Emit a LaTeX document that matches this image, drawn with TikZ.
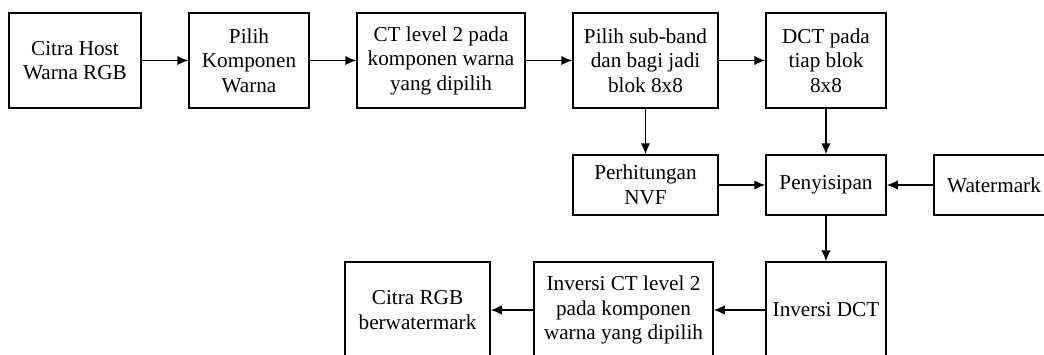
\documentclass[tikz,border=0pt]{standalone}
\usepackage{fontspec}
\setmainfont{Liberation Serif}
\usetikzlibrary{arrows.meta}
\begin{document}
\begin{tikzpicture}[x=1pt,y=1pt,
  box/.style={draw, line width=1.5pt, inner sep=0pt, align=center,
    font=\fontsize{21.2}{24.5}\selectfont},
  arr/.style={line width=1.5pt, -{Latex[length=11pt,width=9.5pt]}}]
\useasboundingbox (0,0) rectangle (1044,-354);
\clip (0,0) rectangle (1044,-354);
% row 1
\node[box, minimum width=132, minimum height=95] (b1) at (75,-60.5) {Citra Host\\Warna RGB};
\node[box, minimum width=120, minimum height=95] (b2) at (249,-60.5) {Pilih\\Komponen\\Warna};
\node[box, minimum width=168, minimum height=95] (b3) at (441,-60.5) {CT level 2 pada\\komponen warna\\yang dipilih};
\node[box, minimum width=145, minimum height=95] (b4) at (645.5,-60.5) {Pilih sub-band\\dan bagi jadi\\blok 8x8};
\node[box, minimum width=120, minimum height=95] (b5) at (826,-60.5) {DCT pada\\tiap blok\\8x8};
% row 2
\node[box, minimum width=145, minimum height=60] (nvf) at (645.5,-185) {Perhitungan\\NVF};
\node[box, minimum width=120, minimum height=60] (sis) at (826,-185) {Penyisipan};
\node[box, minimum width=120, minimum height=60] (wm) at (994,-185) {Watermark};
% row 3
\node[box, minimum width=120, minimum height=96] (idct) at (826,-310) {Inversi DCT};
\node[box, minimum width=179, minimum height=96] (ict) at (623.5,-310) {Inversi CT level 2\\pada komponen\\warna yang dipilih};
\node[box, minimum width=145, minimum height=96] (out) at (417.5,-310) {Citra RGB\\berwatermark};
% connectors
\draw[arr] (b1) -- (b2);
\draw[arr] (b2) -- (b3);
\draw[arr] (b3) -- (b4);
\draw[arr] (b4) -- (b5);
\draw[arr] (b4) -- (nvf);
\draw[arr] (b5) -- (sis);
\draw[arr] (nvf) -- (sis);
\draw[arr] (wm) -- (sis);
\draw[arr] (sis) -- (idct);
\draw[arr] (idct) -- (ict);
\draw[arr] (ict) -- (out);
\end{tikzpicture}
\end{document}
